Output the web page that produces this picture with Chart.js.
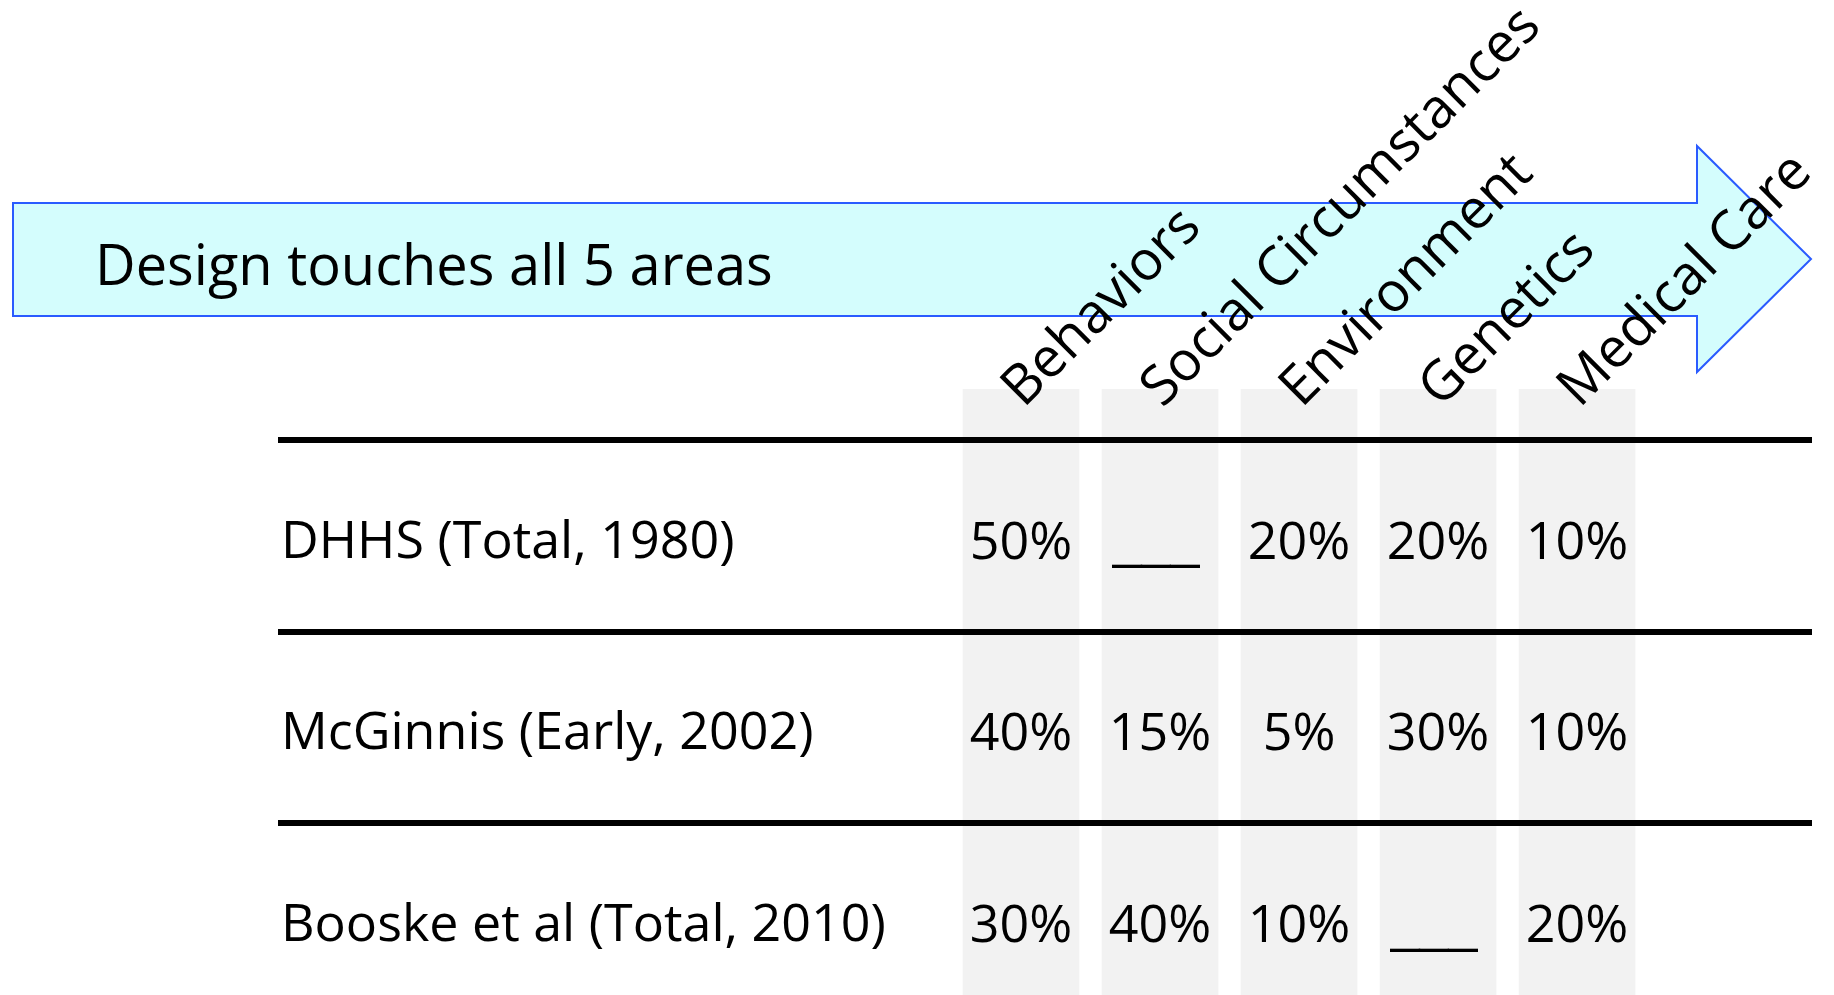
<!DOCTYPE html>
<html>
<head>
<meta charset="utf-8">
<script src="https://cdn.jsdelivr.net/npm/chart.js@4.4.1/dist/chart.umd.min.js"></script>
<style>
    body{margin:0;background:#fff;overflow:hidden;}
    #wrap{width:1834px;height:995px;position:relative;}
</style>
</head>
<body>
<div id="wrap"><canvas id="chart"></canvas></div>
<script>

const columns = ['Behaviors', 'Social Circumstances', 'Environment', 'Genetics', 'Medical Care'];
const rows = ['DHHS (Total, 1980)', 'McGinnis (Early, 2002)', 'Booske et al (Total, 2010)'];
const dhhs = [50, null, 20, 20, 10];
const mcginnis = [40, 15, 5, 30, 10];
const booske = [30, 40, 10, null, 20];
const bannerText = 'Design touches all 5 areas';

const rowValues = [dhhs, mcginnis, booske];

// the big cyan arrow behind the column headers
const arrowBanner = {
    id: 'arrowBanner',
    beforeDraw(chart){
        const ctx = chart.ctx;
        ctx.save();
        ctx.beginPath();
        ctx.moveTo(13, 203);
        ctx.lineTo(1697, 203);
        ctx.lineTo(1697, 146);
        ctx.lineTo(1811, 259);
        ctx.lineTo(1697, 372);
        ctx.lineTo(1697, 316);
        ctx.lineTo(13, 316);
        ctx.closePath();
        ctx.fillStyle = '#d4fdfd';
        ctx.fill();
        ctx.lineWidth = 2;
        ctx.strokeStyle = '#2a5bff';
        ctx.stroke();
        ctx.fillStyle = '#000';
        ctx.font = "56px 'Open Sans'";
        ctx.textBaseline = 'alphabetic';
        ctx.textAlign = 'left';
        ctx.fillText(bannerText, 95, 285);
        ctx.restore();
    }
};

// percent values written at each point of the row datasets
const cellLabels = {
    id: 'cellLabels',
    afterDatasetsDraw(chart){
        const ctx = chart.ctx;
        ctx.save();
        ctx.fillStyle = '#000';
        ctx.textAlign = 'center';
        ctx.textBaseline = 'middle';
        chart.data.datasets.forEach((ds, i) => {
            if(ds.type != 'scatter') return;
            const meta = chart.getDatasetMeta(i);
            meta.data.forEach((pt, j) => {
                const v = ds.data[j].v;
                if(v == null){
                    // blank cell
                    ctx.font = "52px 'Liberation Sans'";
                    ctx.fillText('___', pt.x - 4, pt.y + 8);
                }else{
                    ctx.font = "52px 'Open Sans'";
                    ctx.fillText(v + '%', pt.x, pt.y + 8);
                }
            });
        });
        ctx.restore();
    }
};

let datasets = [];
datasets.push({
    type: 'bar',
    label: 'columns',
    data: columns.map((c, i) => ({x: i, y: [-1, 3]})),
    backgroundColor: '#f2f2f2',
    borderWidth: 0,
    barThickness: 116,
    // let the grey columns rise a little above the plot area
    clip: {left: 0, top: 31, right: 0, bottom: 0},
    order: 2
});
rowValues.forEach((vals, r) => {
    datasets.push({
        type: 'scatter',
        label: rows[r],
        data: vals.map((v, j) => ({x: j, y: r, v: v})),
        pointRadius: 0,
        pointHoverRadius: 0,
        order: 1
    });
});

const ctx = document.getElementById('chart');
new Chart(
    ctx,
    {
        type: 'bar',
        data: {
            datasets: datasets
        },
        options: {
            responsive: true,
            maintainAspectRatio: false,
            animation: false,
            events: [],
            layout: {
                padding: {left: 278, right: 22, top: 0, bottom: 0}
            },
            plugins: {
                legend: {display: false},
                tooltip: {enabled: false}
            },
            scales: {
                x: {
                    type: 'linear',
                    position: 'top',
                    offset: false,
                    min: -5.345,
                    max: 5.69,
                    afterBuildTicks: (scale) => {
                        scale.ticks = columns.map((c, i) => ({value: i}));
                    },
                    afterFit: (scale) => {
                        scale.height = 420;
                    },
                    grid: {display: false, drawTicks: false},
                    border: {display: false},
                    ticks: {
                        autoSkip: false,
                        minRotation: 45,
                        maxRotation: 45,
                        labelOffset: 38,
                        padding: -1,
                        z: 1,
                        color: '#000',
                        font: {family: "'Open Sans'", size: 55},
                        callback: (v, i) => columns[i]
                    }
                },
                y: {
                    type: 'linear',
                    reverse: true,
                    offset: false,
                    min: -0.604,
                    max: 2.395,
                    afterBuildTicks: (scale) => {
                        scale.ticks = rows.map((r, i) => ({value: i}));
                    },
                    afterFit: (scale) => {
                        scale.width = 0;
                        scale.paddingTop = 0;
                        scale.paddingBottom = 0;
                    },
                    grid: {
                        offset: true,
                        color: '#000',
                        lineWidth: 6,
                        drawTicks: false,
                        z: 1
                    },
                    border: {display: false},
                    ticks: {
                        mirror: true,
                        padding: 3,
                        labelOffset: 7,
                        color: '#000',
                        font: {family: "'Open Sans'", size: 52},
                        callback: (v, i) => rows[i]
                    }
                }
            }
        },
        plugins: [arrowBanner, cellLabels]
    }
);

</script>
</body>
</html>
